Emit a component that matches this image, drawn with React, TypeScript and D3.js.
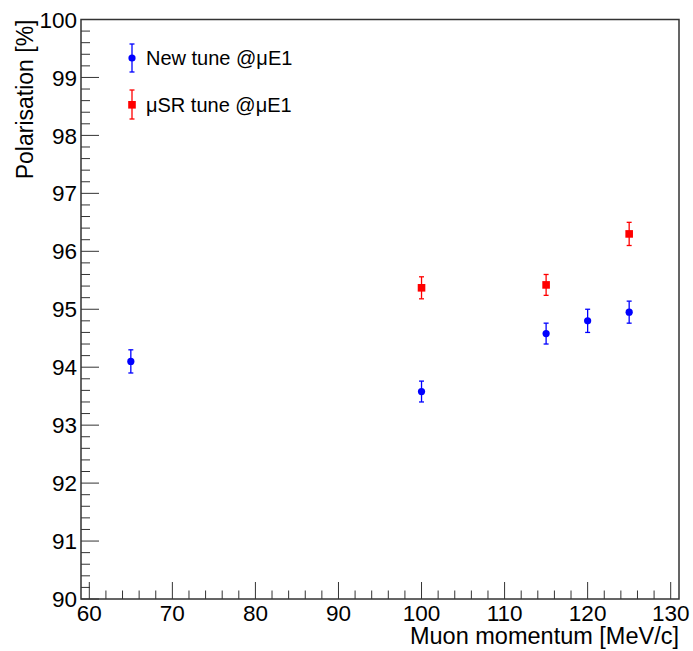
import React from "react";
import * as d3 from "d3";

const W = 693, H = 651;
const M = { left: 81, right: 679, top: 19.5, bottom: 599 };

const newTuneX = [65, 100, 115, 120, 125];
const newTuneY = [94.1, 93.58, 94.58, 94.8, 94.95];
const newTuneErr = [0.2, 0.18, 0.18, 0.2, 0.19];

const usrTuneX = [100, 115, 125];
const usrTuneY = [95.37, 95.42, 96.3];
const usrTuneErr = [0.19, 0.18, 0.2];

const xTicks = [60, 70, 80, 90, 100, 110, 120, 130];
const yTicks = [90, 91, 92, 93, 94, 95, 96, 97, 98, 99, 100];

const legendLabels = ["New tune @\u03bcE1", "\u03bcSR tune @\u03bcE1"];

const FONT = "'Liberation Sans', Arial, sans-serif";

export default function App() {
  const x = d3.scaleLinear().domain([59, 131]).range([M.left, M.right]);
  const y = d3.scaleLinear().domain([90, 100]).range([M.bottom, M.top]);

  const xMinor = d3.range(60, 130.001, 2);
  const yMinor = d3.range(90, 100.001, 0.2);

  const blue = "#0000ff";
  const red = "#ff0000";

  const errBar = (cx: number, cy: number, e: number, color: string, key: string) => {
    const y1 = y(cy - e), y2 = y(cy + e);
    return (
      <g key={key} stroke={color} strokeWidth={1.3}>
        <line x1={x(cx)} x2={x(cx)} y1={y1} y2={y2} />
        <line x1={x(cx) - 2.5} x2={x(cx) + 2.5} y1={y1} y2={y1} />
        <line x1={x(cx) - 2.5} x2={x(cx) + 2.5} y1={y2} y2={y2} />
      </g>
    );
  };

  return (
    <svg width={W} height={H} style={{ position: "absolute", left: 0, top: 0, background: "#fff" }} fontFamily={FONT}>
      <rect x={0} y={0} width={W} height={H} fill="#fff" />
      {/* frame */}
      <rect x={M.left} y={M.top} width={M.right - M.left} height={M.bottom - M.top} fill="none" stroke="#333" strokeWidth={1.5} />
      {/* y ticks */}
      {yMinor.map((v, i) => {
        const major = Math.abs(v - Math.round(v)) < 1e-6;
        return <line key={"ym" + i} x1={M.left} x2={M.left + (major ? 18 : 9)} y1={y(v)} y2={y(v)} stroke="#333" strokeWidth={1} />;
      })}
      {xMinor.map((v, i) => {
        const major = Math.abs(v % 10) < 1e-6;
        return <line key={"xm" + i} x1={x(v)} x2={x(v)} y1={M.bottom} y2={M.bottom - (major ? 17 : 8.5)} stroke="#333" strokeWidth={1} />;
      })}
      {yTicks.map((v) => (
        <text key={"yt" + v} x={M.left - 4} y={y(v)} dy="0.36em" textAnchor="end" fontSize={22.5} fill="#000">{v}</text>
      ))}
      {xTicks.map((v) => (
        <text key={"xt" + v} x={x(v)} y={620.5} textAnchor="middle" fontSize={22.5} fill="#000">{v}</text>
      ))}
      <text x={M.right} y={644} textAnchor="end" fontSize={23.5} fill="#000">Muon momentum [MeV/c]</text>
      <text transform={`translate(32.5,${M.top}) rotate(-90)`} textAnchor="end" fontSize={23} fill="#000">Polarisation [%]</text>

      {/* data */}
      {newTuneX.map((v, i) => errBar(v, newTuneY[i], newTuneErr[i], blue, "be" + i))}
      {newTuneX.map((v, i) => (
        <circle key={"bp" + i} cx={x(v)} cy={y(newTuneY[i])} r={3.6} fill={blue} />
      ))}
      {usrTuneX.map((v, i) => errBar(v, usrTuneY[i], usrTuneErr[i], red, "re" + i))}
      {usrTuneX.map((v, i) => (
        <rect key={"rp" + i} x={x(v) - 3.8} y={y(usrTuneY[i]) - 3.8} width={7.6} height={7.6} fill={red} />
      ))}

      {/* legend */}
      <g>
        <g stroke={blue} strokeWidth={1.3}>
          <line x1={132} x2={132} y1={44} y2={72} />
          <line x1={129.5} x2={134.5} y1={44} y2={44} />
          <line x1={129.5} x2={134.5} y1={72} y2={72} />
        </g>
        <circle cx={132} cy={58} r={3.6} fill={blue} />
        <text x={146} y={58} dy="0.36em" fontSize={20} fill="#000">{legendLabels[0]}</text>
        <g stroke={red} strokeWidth={1.3}>
          <line x1={132} x2={132} y1={90} y2={119} />
          <line x1={129.5} x2={134.5} y1={90} y2={90} />
          <line x1={129.5} x2={134.5} y1={119} y2={119} />
        </g>
        <rect x={128.2} y={101} width={7.6} height={7.6} fill={red} />
        <text x={146} y={105} dy="0.36em" fontSize={20} fill="#000">{legendLabels[1]}</text>
      </g>
    </svg>
  );
}
